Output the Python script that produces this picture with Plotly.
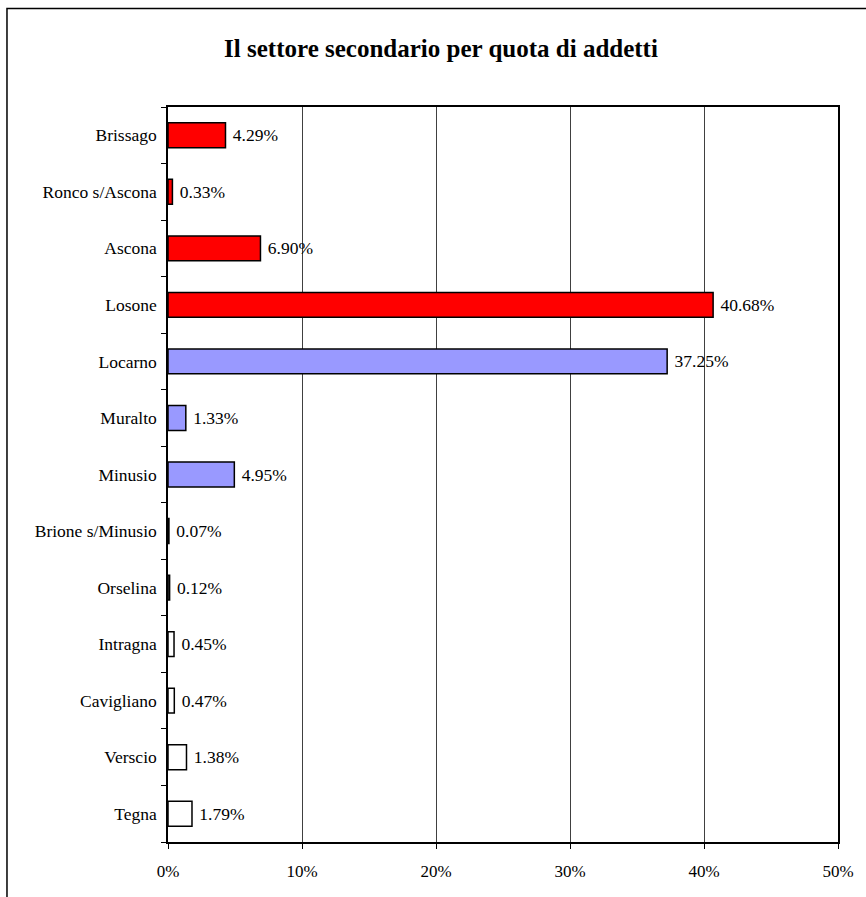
import plotly.graph_objects as go

# Quota di addetti nel settore secondario per comune (%)
comuni = ["Brissago", "Ronco s/Ascona", "Ascona", "Losone", "Locarno", "Muralto",
          "Minusio", "Brione s/Minusio", "Orselina", "Intragna", "Cavigliano",
          "Verscio", "Tegna"]
quote = [4.29, 0.33, 6.90, 40.68, 37.25, 1.33, 4.95, 0.07, 0.12, 0.45, 0.47, 1.38, 1.79]
gruppi = ["rosso"] * 4 + ["blu"] * 3 + ["bianco"] * 6
tick_x = [0, 10, 20, 30, 40, 50]

palette = {"rosso": "#FF0000", "blu": "#9999FF", "bianco": "#FFFFFF"}
colori = [palette[g] for g in gruppi]

W, H = 866, 897
L, R, T, B = 168, 26, 107, 55
FONT = "Liberation Serif, Times New Roman, serif"

fig = go.Figure(go.Bar(
    y=comuni, x=quote, orientation="h",
    marker=dict(color=colori, line=dict(color="black", width=1.5)),
    text=[f"\u00a0{v:.2f}%" for v in quote], textposition="outside",
    textfont=dict(family=FONT, size=17.5, color="black"),
    cliponaxis=False,
))

pw, ph = W - L - R, H - T - B
def px_x(p):
    return (p - L) / pw
def px_y(p):
    return 1 - (p - T) / ph

# cornice esterna del grafico
fig.add_shape(type="rect", xref="paper", yref="paper",
              x0=px_x(6.5), x1=px_x(880), y0=px_y(8.5), y1=px_y(910),
              line=dict(color="black", width=1.5), layer="above")

fig.update_layout(
    width=W, height=H,
    margin=dict(l=L, r=R, t=T, b=B),
    paper_bgcolor="white", plot_bgcolor="white",
    showlegend=False, bargap=0.56,
    title=dict(text="<b>Il settore secondario per quota di addetti</b>",
               x=441 / W, xanchor="center", y=1 - 48 / H, yanchor="middle",
               font=dict(family=FONT, size=25, color="black")),
    font=dict(family=FONT, size=17.5, color="black"),
)
fig.update_xaxes(range=[0, 50], tickvals=tick_x, ticktext=[f"{t}%" for t in tick_x],
                 showgrid=True, gridcolor="#404040", gridwidth=1,
                 showline=True, linecolor="black", linewidth=1.5, mirror=True,
                 ticks="outside", ticklen=5, tickcolor="black", ticklabelstandoff=8,
                 tickfont=dict(family=FONT, size=17), zeroline=False)
fig.update_yaxes(categoryorder="array", categoryarray=comuni[::-1],
                 showline=True, linecolor="black", linewidth=1.5, mirror=True,
                 ticks="outside", ticklen=5, tickcolor="black", tickson="boundaries",
                 ticklabelstandoff=6,
                 showgrid=False, tickfont=dict(family=FONT, size=17.5))

fig.write_html("out.html")
